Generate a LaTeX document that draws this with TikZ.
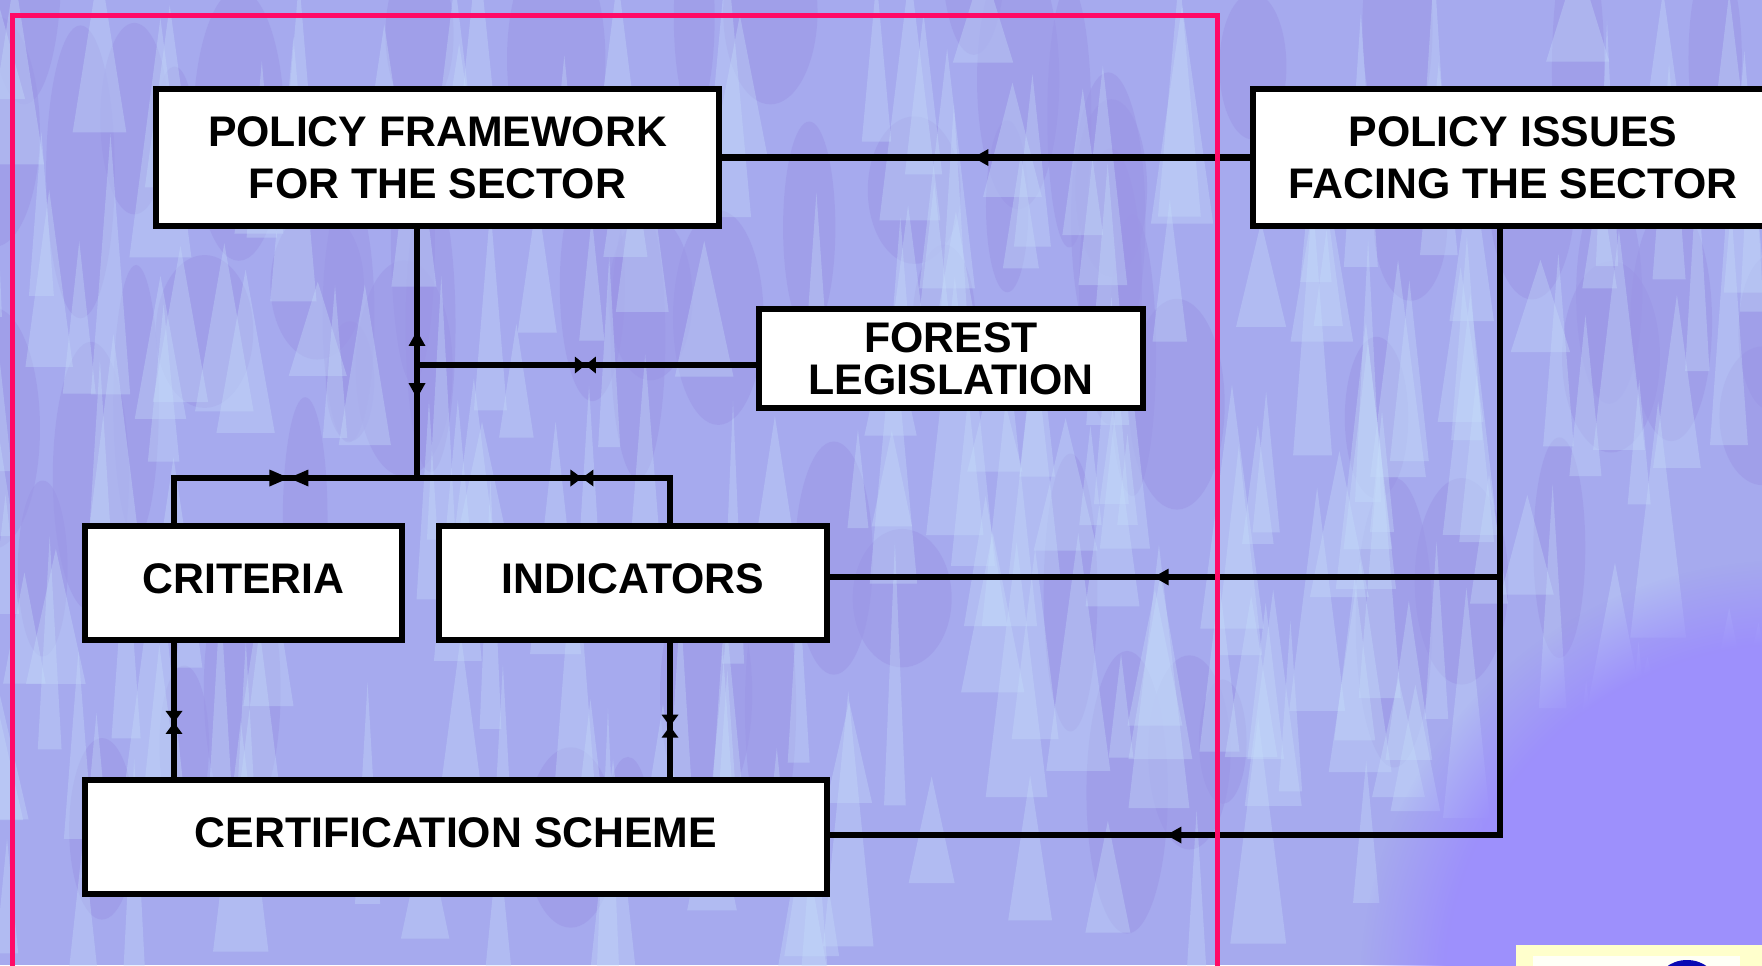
\documentclass[tikz,border=0pt]{standalone}
\usepackage{fontspec}
\setmainfont{Liberation Sans}
\usetikzlibrary{decorations.markings,fadings}

\definecolor{sky}{HTML}{A6AAEE}
\definecolor{needle}{HTML}{C6DDFA}
\definecolor{dimsky}{HTML}{9C96E6}
\definecolor{dusk}{HTML}{9D90FC}
\definecolor{redframe}{HTML}{FF0A66}
\definecolor{logopale}{HTML}{FFFFCC}
\definecolor{logoblue}{HTML}{0A0AB4}

\begin{document}
\begin{tikzpicture}[x=0.5pt,y=-0.5pt,
        box/.style={draw,line width=3.2pt,fill=white,inner sep=0pt,align=center,
            font=\bfseries\fontsize{21.4}{26}\selectfont},
        oneline/.style={text height=15pt,text depth=5pt},
        link/.style={line width=3.2pt,line cap=rect},
        fwd/.style={postaction={decorate,decoration={markings,
            mark=at position #1 with {\fill (0,0) -- (-15,8.5) -- (-15,-8.5) -- cycle;}}}},
        bwd/.style={postaction={decorate,decoration={markings,
            mark=at position #1 with {\fill (0,0) -- (15,8.5) -- (15,-8.5) -- cycle;}}}},
        bowtie/.style 2 args={postaction={decorate,decoration={markings,
            mark=at position #1 with {\fill (0,0) -- (-#2,8.5) -- (-#2,-8.5) -- cycle;
                                      \fill (0,0) -- (#2,8.5) -- (#2,-8.5) -- cycle;}}}}]

    \useasboundingbox (0,0) rectangle (1762,965);
    \clip (0,0) rectangle (1762,965);

    % forest backdrop
    \fill[sky] (0,0) rectangle (1762,965);
    \pgfmathsetseed{42}
    \foreach \i in {1,...,70}{
        \pgfmathsetmacro\tx{rnd*1800-20}
        \pgfmathsetmacro\ty{rnd*900-60}
        \fill[dimsky,opacity=0.5] (\tx,\ty) ellipse ({20+rnd*30} and {60+rnd*90});
    }
    \foreach \i in {1,...,220}{
        \pgfmathsetmacro\tx{rnd*1800-20}
        \pgfmathsetmacro\ty{rnd*900-60}
        \pgfmathsetmacro\tw{10+rnd*22}
        \pgfmathsetmacro\th{90+rnd*180}
        \fill[needle,opacity=0.35] (\tx,\ty) -- (\tx+\tw,\ty+\th) -- (\tx-\tw,\ty+\th) -- cycle;
    }
    \fill[dusk,path fading=circle with fuzzy edge 20 percent] (1790,990) circle (430);

    % boxes
    \node[box,minimum width=281.5pt,minimum height=68.5pt] (policy) at (437.5,157.5) {POLICY FRAMEWORK\\FOR THE SECTOR};
    \node[box,minimum width=260pt,minimum height=68.5pt] (issues) at (1513,157.5) {POLICY ISSUES\\FACING THE SECTOR};
    \node[box,minimum width=192pt,minimum height=49.5pt,font=\bfseries\fontsize{21.4}{21}\selectfont] (law) at (951,358.5) {FOREST\\LEGISLATION};
    \node[box,oneline,minimum width=158.5pt,minimum height=57pt] (crit) at (243.5,583) {CRITERIA};
    \node[box,oneline,minimum width=194pt,minimum height=57pt] (ind) at (633,583) {INDICATORS};
    \node[box,oneline,minimum width=371pt,minimum height=57pt] (cert) at (456,837) {CERTIFICATION SCHEME};

    % junctions
    \coordinate (hub) at (417,478);
    \coordinate (fork) at (417,365);
    \coordinate (critup) at (174,478);
    \coordinate (indup) at (670,478);
    \coordinate (split) at (1500,577);
    \coordinate (corner) at (1500,835);

    % connectors
    \draw[link,fwd=0.524] (issues) -- (policy);
    \draw[link,bwd=0.409,fwd=0.679] (policy.south -| hub) -- (hub);
    \draw[link,bowtie={0.503}{10.5}] (law.west |- fork) -- (fork);
    \draw[link] (crit.north -| critup) -- (critup);
    \draw[link,bowtie={0.473}{19.5}] (critup) -- (hub);
    \draw[link,bowtie={0.652}{11.5}] (hub) -- (indup);
    \draw[link] (indup) -- (ind.north -| indup);
    \draw[link,bowtie={0.593}{11.5}] (crit.south -| critup) -- (cert.north -| critup);
    \draw[link,bowtie={0.621}{11.5}] (ind.south -| indup) -- (cert.north -| indup);
    \draw[link] (issues.south -| split) -- (corner);
    \draw[link,fwd=0.517] (split) -- (ind.east |- split);
    \draw[link,fwd=0.498] (corner) -- (cert.east |- corner);

    % frame around the national part
    \draw[redframe,line width=2.5pt] (12,1000) -- (12,15) -- (1217,15) -- (1217,1000);

    % corner logo
    \fill[logopale] (1516,945) rectangle (1770,970);
    \fill[white!85!logopale] (1533,956) rectangle (1740,970);
    \fill[logoblue] (1687,985) ellipse (30 and 25);
\end{tikzpicture}
\end{document}
